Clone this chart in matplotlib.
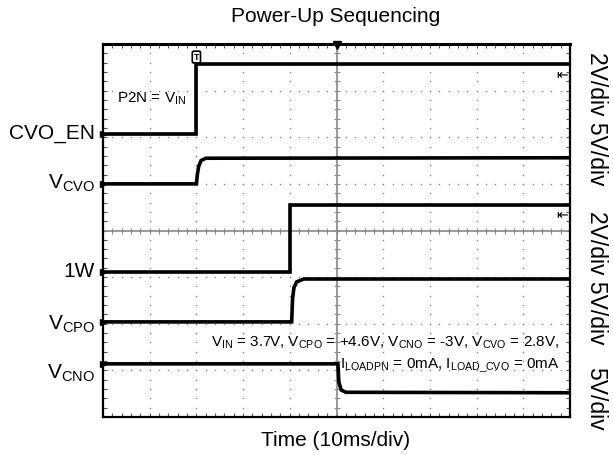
import numpy as np
import matplotlib.pyplot as plt

plt.rcParams['font.family'] = ['Liberation Sans', 'DejaVu Sans']
plt.rcParams['mathtext.fontset'] = 'custom'
plt.rcParams['mathtext.rm'] = 'Liberation Sans'
plt.rcParams['mathtext.it'] = 'Liberation Sans:italic'

# Traces, in scope divisions (x: 10 div of 10ms, y: 8 div, bottom = 0)
cvo_en_t = [0, 2.0, 2.0, 10]
cvo_en_v = [6.07, 6.07, 7.57, 7.57]

vcvo_t = [0, 2.0, 2.02, 2.05, 2.1, 2.2, 10]
vcvo_v = [5.0, 5.0, 5.2, 5.38, 5.5, 5.55, 5.56]

w1_t = [0, 4.0, 4.0, 10]
w1_v = [3.11, 3.11, 4.55, 4.55]

vcpo_t = [0, 4.04, 4.06, 4.09, 4.15, 4.3, 10]
vcpo_v = [2.04, 2.04, 2.55, 2.78, 2.9, 2.96, 2.96]

vcno_t = [0, 5.03, 5.05, 5.1, 5.2, 10]
vcno_v = [1.14, 1.14, 0.75, 0.58, 0.53, 0.52]

trace_labels = ['CVO_EN', r'V$_\mathrm{CVO}$', '1W', r'V$_\mathrm{CPO}$', r'V$_\mathrm{CNO}$']
label_y = [6.07, 5.02, 3.13, 1.98, 0.93]
start_levels = [6.07, 5.0, 3.11, 2.04, 1.14]
right_marks = [7.34, 4.33]

scale_groups = ['2V/div 5V/div', '2V/div 5V/div', '5V/div']
scale_y = [119, 278, 399]

fig = plt.figure(figsize=(6.13, 4.55), dpi=100)
ax = fig.add_axes([103/613, 1 - 417/455, 467/613, 373/455])
ax.set_xlim(0, 10)
ax.set_ylim(0, 8)

# graticule: dotted lines on each division
steps = np.arange(0, 10.01, 0.2)
vsteps = np.arange(0, 8.01, 0.2)
for gx in range(1, 10):
    if gx != 5:
        ax.plot([gx] * len(vsteps), vsteps, ls='none', marker='s', ms=0.9, color='#777777', mew=0)
for gy in range(1, 8):
    if gy != 4:
        ax.plot(steps, [gy] * len(steps), ls='none', marker='s', ms=0.9, color='#777777', mew=0)

# centre cross with small ticks
ax.axvline(5, color='#888888', lw=1.2)
ax.axhline(4, color='#888888', lw=1.2)
ax.plot([5] * len(vsteps), vsteps, ls='none', marker='_', ms=5, color='#888888', mew=0.8)
ax.plot(steps, [4] * len(steps), ls='none', marker='|', ms=5, color='#888888', mew=0.8)

ax.set_xticks(steps)
ax.set_yticks(vsteps)
ax.tick_params(direction='in', length=3, width=0.8, colors='#555555',
               top=True, right=True, labelbottom=False, labelleft=False)
for s in ax.spines.values():
    s.set_linewidth(1.6)
    s.set_color('black')
ax.spines['top'].set_linewidth(2.2)

# traces
for t, v in [(cvo_en_t, cvo_en_v), (vcvo_t, vcvo_v), (w1_t, w1_v), (vcpo_t, vcpo_v), (vcno_t, vcno_v)]:
    ax.plot(t, v, color='black', lw=2.6, solid_joinstyle='miter', zorder=3)
    ax.plot(t, v, color='black', lw=1.0, zorder=3)

# left ground markers
ax.plot([0] * len(start_levels), start_levels, ls='none', marker='>', ms=4, color='black', clip_on=False, zorder=4)
# right reference arrows
for ry in right_marks:
    ax.text(9.95, ry, '\u21e4', fontsize=10, ha='right', va='center', family='DejaVu Sans', zorder=4)

# trigger markers
ax.plot([5], [7.97], marker='v', ms=6, color='black', clip_on=False, zorder=5)
ax.text(2.0, 7.72, 'T', fontsize=6.5, ha='center', va='center', zorder=5, fontweight='bold',
        bbox=dict(boxstyle='round,pad=0.15', fc='white', ec='black', lw=1.2))

for lab, ly in zip(trace_labels, label_y):
    ax.text(-0.17, ly, lab, fontsize=15, ha='right', va='center', transform=ax.transData, clip_on=False)

ax.text(1.03, 6.82, r'P2N = V$_\mathrm{IN}$', fontsize=11, ha='center', va='center', zorder=5)
ax.text(9.78, 1.59, r'V$_\mathrm{IN}$ = 3.7V, V$_\mathrm{CPO}$ = +4.6V, V$_\mathrm{CNO}$ = -3V, V$_\mathrm{CVO}$ = 2.8V,',
        fontsize=11, ha='right', va='center', zorder=5)
ax.text(9.78, 1.09, r'I$_\mathrm{LOADPN}$ = 0mA, I$_\mathrm{LOAD\_CVO}$ = 0mA',
        fontsize=11, ha='right', va='center', zorder=5)

for txt, sy in zip(scale_groups, scale_y):
    fig.text(596/613, 1 - sy/455, txt, fontsize=16.5, rotation=270, ha='center', va='center')

fig.text(336/613, 1 - 17/455, 'Power-Up Sequencing', fontsize=15, ha='center', va='center')
fig.text(336/613, 1 - 440/455, 'Time (10ms/div)', fontsize=15, ha='center', va='center')

fig.savefig('out.png', dpi=100)
